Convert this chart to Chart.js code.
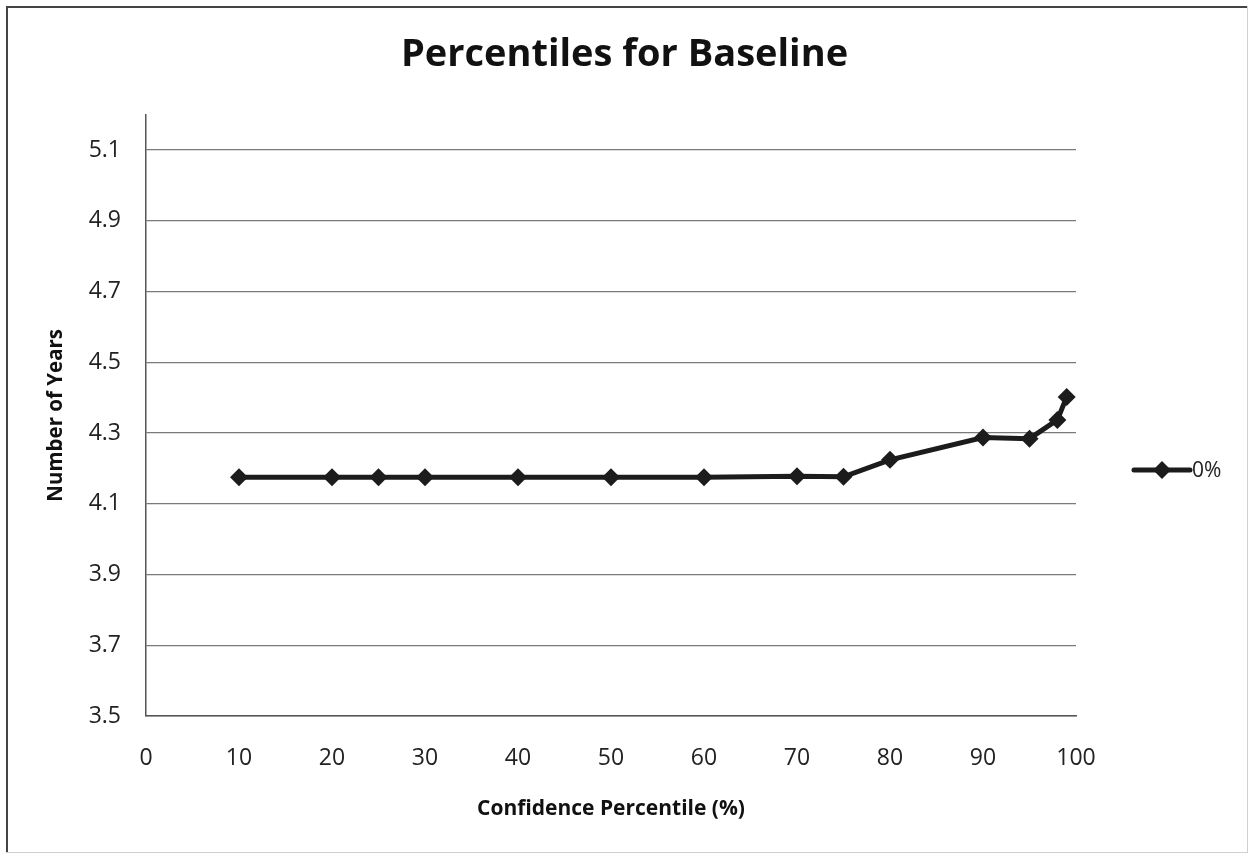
<!DOCTYPE html>
<html>
<head>
<meta charset="utf-8">
<script src="https://cdn.jsdelivr.net/npm/chart.js@4"></script>
<style>
  html, body { margin: 0; padding: 0; background: #fff; }
  #wrap { width: 1249px; height: 854px; position: relative; }
</style>
</head>
<body>
<div id="wrap"><canvas id="percentilesChart" width="1249" height="854"></canvas></div>
<script>
// Percentiles for Baseline
const percentiles = [10, 20, 25, 30, 40, 50, 60, 70, 75, 80, 90, 95, 98, 99];
const years = [4.175, 4.175, 4.175, 4.175, 4.175, 4.175, 4.175, 4.178, 4.176, 4.224, 4.287, 4.284, 4.337, 4.402];
const yTicks = [3.5, 3.7, 3.9, 4.1, 4.3, 4.5, 4.7, 4.9, 5.1];
const seriesLabel = '0%';

const FONT = '"Open Sans", Lato, sans-serif';
const INK = '#1c1c1c';

// outer frame + custom legend (line with diamond marker)
const frameAndLegend = {
  id: 'frameAndLegend',
  beforeDraw(chart) {
    const ctx = chart.ctx;
    ctx.save();
    ctx.fillStyle = '#fff';
    ctx.fillRect(0, 0, chart.width, chart.height);
    ctx.strokeStyle = '#d0d0d0';
    ctx.lineWidth = 1;
    ctx.strokeRect(6.5, 6.5, chart.width - 8, chart.height - 8);
    ctx.strokeStyle = '#444';
    ctx.lineWidth = 2;
    ctx.beginPath();
    ctx.moveTo(7, chart.height - 2);
    ctx.lineTo(7, 7);
    ctx.lineTo(chart.width - 2, 7);
    ctx.stroke();
    ctx.restore();
  },
  afterDraw(chart) {
    const ctx = chart.ctx;
    const area = chart.chartArea;
    const x0 = area.right + 58, y = 470;
    ctx.save();
    ctx.strokeStyle = INK;
    ctx.lineWidth = 5;
    ctx.lineCap = 'round';
    ctx.beginPath();
    ctx.moveTo(x0, y);
    ctx.lineTo(x0 + 56, y);
    ctx.stroke();
    ctx.fillStyle = INK;
    ctx.beginPath();
    ctx.moveTo(x0 + 28, y - 9);
    ctx.lineTo(x0 + 37, y);
    ctx.lineTo(x0 + 28, y + 9);
    ctx.lineTo(x0 + 19, y);
    ctx.closePath();
    ctx.fill();
    ctx.font = '21px ' + FONT;
    ctx.fillStyle = '#222';
    ctx.textBaseline = 'middle';
    ctx.fillText(chart.data.datasets[0].label, x0 + 58, y + 1);
    ctx.restore();
  }
};

new Chart(document.getElementById('percentilesChart').getContext('2d'), {
  type: 'line',
  data: {
    datasets: [{
      label: seriesLabel,
      data: percentiles.map((p, i) => ({ x: p, y: years[i] })),
      borderColor: INK,
      backgroundColor: INK,
      borderWidth: 5,
      pointStyle: 'rectRot',
      pointRadius: 9,
      pointHoverRadius: 9,
      pointBackgroundColor: INK,
      pointBorderWidth: 0,
      tension: 0,
      yAxisID: 'y'
    }]
  },
  plugins: [frameAndLegend],
  options: {
    responsive: false,
    animation: false,
    layout: { padding: 0 },
    plugins: {
      legend: { display: false },
      tooltip: { enabled: false },
      title: {
        display: true,
        text: 'Percentiles for Baseline',
        color: '#111',
        font: { family: FONT, size: 38, weight: 'bold', lineHeight: 1.2 },
        padding: { top: 32, bottom: 37 }
      }
    },
    scales: {
      x: {
        type: 'linear',
        min: 0,
        max: 100,
        ticks: { stepSize: 10, color: '#222', font: { family: FONT, size: 23 }, padding: 29 },
        grid: { display: false, drawTicks: false },
        border: { color: '#555', width: 1.5 },
        title: {
          display: true,
          text: 'Confidence Percentile (%)',
          color: '#111',
          font: { family: FONT, size: 21, weight: 'bold', lineHeight: 1.2 },
          padding: { top: 0, bottom: 32 }
        },
        afterFit(scale) { scale.height = 138; }
      },
      y: {
        min: 3.5,
        max: 5.2,
        afterBuildTicks(scale) { scale.ticks = yTicks.map(v => ({ value: v })); },
        ticks: {
          color: '#222',
          font: { family: FONT, size: 23 },
          padding: 25,
          callback: v => v.toFixed(1)
        },
        grid: { color: '#7a7a7a', lineWidth: 1.3, drawTicks: false },
        border: { color: '#555', width: 1.5 },
        title: {
          display: true,
          text: 'Number of Years',
          color: '#111',
          font: { family: FONT, size: 20.5, weight: 'bold', lineHeight: 1.2 },
          padding: { top: 44, bottom: 0 }
        },
        afterFit(scale) { scale.width = 146; }
      },
      // empty right axis reserving room for the legend, so the title stays centred on the page
      legendSpace: {
        position: 'right',
        display: true,
        ticks: { display: false },
        grid: { display: false, drawTicks: false },
        border: { display: false },
        afterFit(scale) { scale.width = 173; }
      }
    }
  }
});
</script>
</body>
</html>
